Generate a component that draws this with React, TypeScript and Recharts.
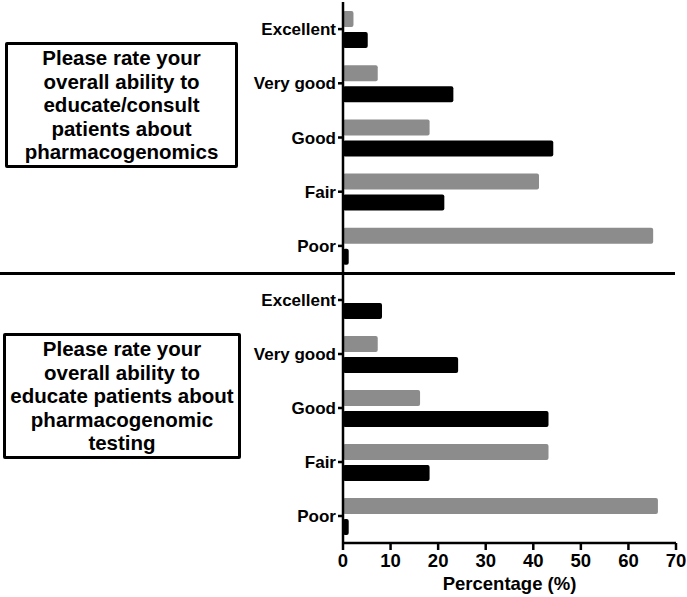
import { Bar, BarChart, XAxis, YAxis } from "recharts";

const ratings = ["Excellent", "Very good", "Good", "Fair", "Poor"];
const consultGray = [2.2, 7.3, 18.2, 41.2, 65.2];
const consultBlack = [5.2, 23.2, 44.2, 21.3, 1.2];
const testingGray = [0, 7.3, 16.2, 43.2, 66.2];
const testingBlack = [8.2, 24.2, 43.2, 18.2, 1.2];
const xTicks = [0, 10, 20, 30, 40, 50, 60, 70];

const FONT = "'Liberation Sans', Arial, sans-serif";
const GRAY = "#8c8c8c";

const toRows = (gray: number[], black: number[]) =>
  ratings.map((name, i) => ({ name, gray: gray[i], black: black[i] }));

const tickStyle = { fill: "#000", fontSize: 17, fontWeight: 700, fontFamily: FONT };

function Panel({ gray, black, showX }: { gray: number[]; black: number[]; showX: boolean }) {
  return (
    <BarChart
      width={687}
      height={showX ? 324 : 273}
      data={toRows(gray, black)}
      layout="vertical"
      margin={{ top: showX ? 0 : 2, right: 11, left: 0, bottom: 0 }}
      barCategoryGap="16%"
      barGap={5}
    >
      <XAxis
        type="number"
        domain={[0, 70]}
        ticks={xTicks}
        hide={!showX}
        height={54}
        stroke="#000"
        strokeWidth={2.5}
        tickSize={7}
        tickMargin={4}
        tick={{ ...tickStyle, fontSize: 18.5 }}
        label={{
          value: "Percentage (%)",
          position: "insideBottom",
          offset: 7,
          style: { fill: "#000", fontSize: 18.5, fontWeight: 700, fontFamily: FONT },
        }}
      />
      <YAxis
        type="category"
        dataKey="name"
        width={343}
        stroke="#000"
        strokeWidth={2.5}
        tickSize={5}
        tickMargin={2}
        tick={tickStyle}
      />
      <Bar dataKey="gray" fill={GRAY} barSize={16} radius={2} isAnimationActive={false} />
      <Bar dataKey="black" fill="#000" barSize={16} radius={2} isAnimationActive={false} />
    </BarChart>
  );
}

const boxStyle = {
  position: "absolute" as const,
  border: "3px solid #000",
  borderRadius: 2,
  boxSizing: "border-box" as const,
  display: "flex",
  alignItems: "center",
  justifyContent: "center",
  textAlign: "center" as const,
  fontFamily: FONT,
  fontWeight: 700,
  fontSize: 20.5,
  lineHeight: "23.5px",
  color: "#000",
};

export default function App() {
  return (
    <div
      style={{
        position: "absolute",
        top: 0,
        left: 0,
        width: 687,
        height: 597,
        background: "#fff",
        overflow: "hidden",
      }}
    >
      <div style={{ position: "absolute", top: 0, left: 0 }}>
        <Panel gray={consultGray} black={consultBlack} showX={false} />
      </div>
      <div style={{ position: "absolute", top: 273, left: 0 }}>
        <Panel gray={testingGray} black={testingBlack} showX />
      </div>
      <div
        style={{ position: "absolute", top: 272, left: 0, width: 675, height: 2.5, background: "#000" }}
      />
      <div style={{ ...boxStyle, left: 5, top: 42, width: 233, height: 126 }}>
        <div>
          Please rate your
          <br />
          overall ability to
          <br />
          educate/consult
          <br />
          patients about
          <br />
          pharmacogenomics
        </div>
      </div>
      <div style={{ ...boxStyle, left: 3, top: 333, width: 238, height: 126 }}>
        <div>
          Please rate your
          <br />
          overall ability to
          <br />
          educate patients about
          <br />
          pharmacogenomic
          <br />
          testing
        </div>
      </div>
    </div>
  );
}
